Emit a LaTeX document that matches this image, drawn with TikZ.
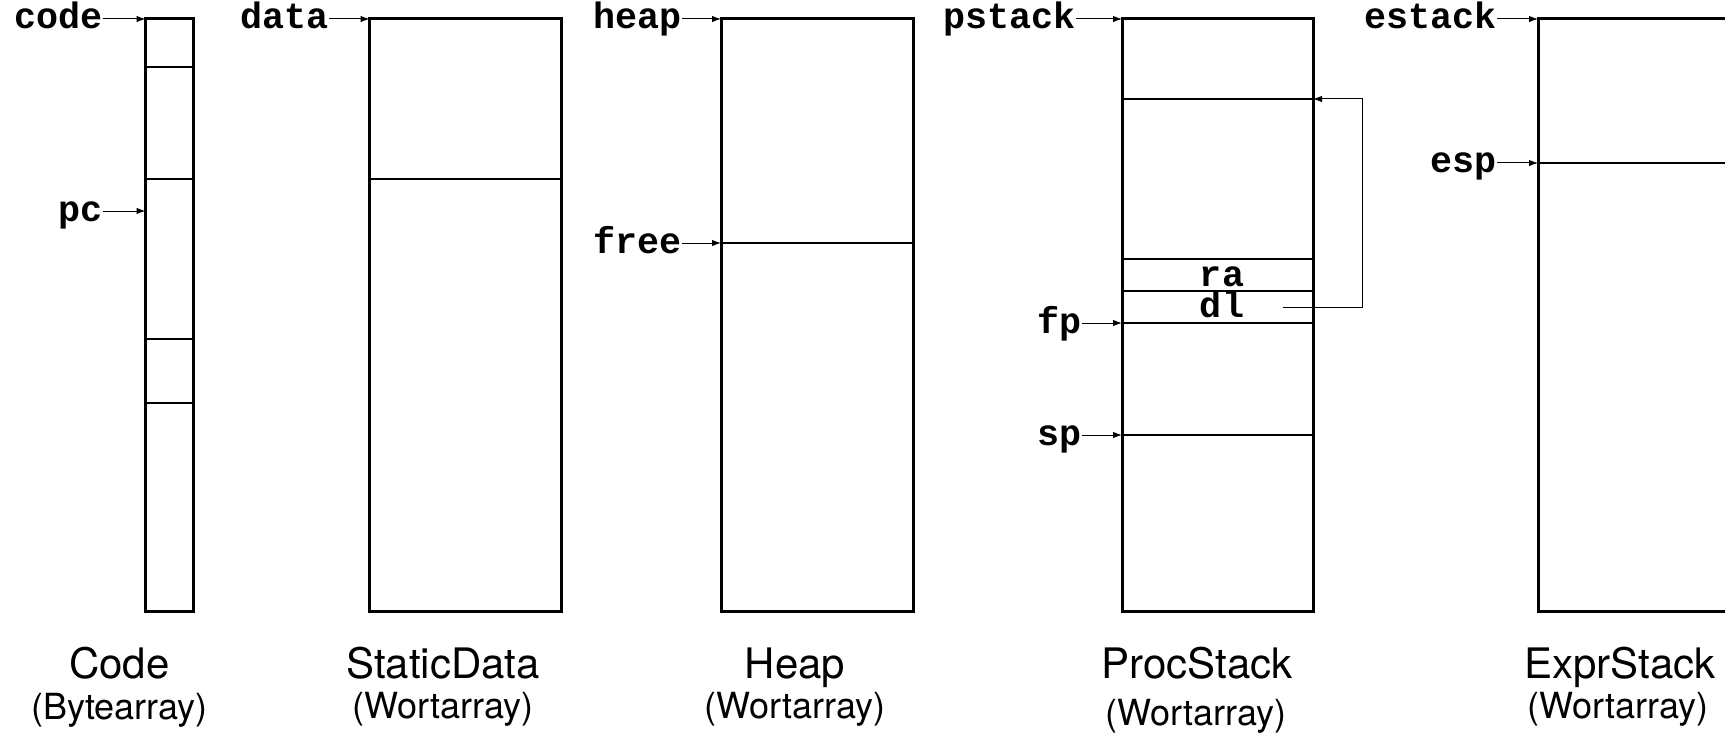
\documentclass[tikz,border=0pt]{standalone}
\usepackage{fontspec}
\setmainfont{TeX Gyre Heros}
\newfontfamily\regfont{Liberation Mono}
\usetikzlibrary{arrows.meta}

\tikzset{
  mem/.style={draw, line width=3pt, inner sep=0pt, outer sep=0pt,
              minimum width=192pt, minimum height=592pt, anchor=north west},
  cell/.style={line width=1.3pt},
  ptr/.style={line width=1pt, -{Latex[length=9pt,width=6.5pt]}},
  reg/.style={font=\regfont\bfseries\fontsize{36.7}{40}\selectfont,
              inner sep=0pt, anchor=base east},
  slot/.style={font=\regfont\bfseries\fontsize{36.7}{40}\selectfont,
               inner sep=0pt, anchor=base},
  title/.style={font=\fontsize{42}{48}\selectfont, inner sep=0pt, anchor=base},
  sub/.style={font=\fontsize{36}{42}\selectfont, inner sep=0pt, anchor=base},
}
% start of a pointer arrow: right end of a register name, at mid x-height
\newcommand\ptrstart[1]{([yshift=10pt]#1.base east)}

\begin{document}
\begin{tikzpicture}[x=1pt, y=-1pt]
\clip (0,0) rectangle (1725,733);

% ---- memory areas ----
\node[mem, minimum width=47.5pt] (codebox) at (145.5,19) {};
\node[mem] (databox) at (369.5,19) {};
\node[mem] (heapbox) at (721,19) {};
\node[mem, minimum width=191pt] (procbox) at (1122,19) {};
\node[mem] (exprbox) at (1538,19) {};

% ---- cell boundaries ----
\foreach \y in {67,179,339,403}
  \draw[cell] (codebox.west |- 0,\y) -- (codebox.east |- 0,\y);
\draw[cell] (databox.west |- 0,179) -- (databox.east |- 0,179);
\draw[cell] (heapbox.west |- 0,243) -- (heapbox.east |- 0,243);
\foreach \y in {99,259,291,323,435}
  \draw[cell] (procbox.west |- 0,\y) -- (procbox.east |- 0,\y);
\draw[cell] (exprbox.west |- 0,163) -- (exprbox.east |- 0,163);

% ---- pointer targets on the left edges ----
\coordinate (pcat)   at (codebox.west |- 0,211);
\coordinate (freeat) at (heapbox.west |- 0,243);
\coordinate (fpat)   at (procbox.west |- 0,323);
\coordinate (spat)   at (procbox.west |- 0,435);
\coordinate (espat)  at (exprbox.west |- 0,163);

% ---- registers (baseline 10pt below the arrow) ----
\node[reg] (code)   at (103,29)   {code};
\node[reg] (pc)     at (103,221)  {pc};
\node[reg] (data)   at (329,29)   {data};
\node[reg] (heap)   at (682,29)   {heap};
\node[reg] (free)   at (682,253)  {free};
\node[reg] (pstack) at (1076,29)  {pstack};
\node[reg] (fp)     at (1082,333) {fp};
\node[reg] (sp)     at (1082,445) {sp};
\node[reg] (estack) at (1497,29)  {estack};
\node[reg] (esp)    at (1497,173) {esp};

\draw[ptr] \ptrstart{code}   -- (codebox.north west);
\draw[ptr] \ptrstart{pc}     -- (pcat);
\draw[ptr] \ptrstart{data}   -- (databox.north west);
\draw[ptr] \ptrstart{heap}   -- (heapbox.north west);
\draw[ptr] \ptrstart{free}   -- (freeat);
\draw[ptr] \ptrstart{pstack} -- (procbox.north west);
\draw[ptr] \ptrstart{fp}     -- (fpat);
\draw[ptr] \ptrstart{sp}     -- (spat);
\draw[ptr] \ptrstart{estack} -- (exprbox.north west);
\draw[ptr] \ptrstart{esp}    -- (espat);

% ---- frame cells and dynamic link ----
\node[slot] (ra) at (1222,286) {ra};
\node[slot] (dl) at (1222,317) {dl};
\coordinate (dlref) at (1283,307);
\coordinate (raat)  at (procbox.east |- 0,99);
\draw[ptr] (dlref) -- ++(79,0) |- (raat);

% ---- captions ----
\node[title] (codettl) at (119.5,678) {Code};
\node[sub]   (codesub) at (119.5,719) {(Bytearray)};
\node[title] (datattl) at (443,678)   {StaticData};
\node[sub]   (datasub) at (443,718)   {(Wortarray)};
\node[title] (heapttl) at (795,678)   {Heap};
\node[sub]   (heapsub) at (795,718)   {(Wortarray)};
\node[title] (procttl) at (1197,678)  {ProcStack};
\node[sub]   (procsub) at (1196,725)  {(Wortarray)};
\node[title] (exprttl) at (1620,678)  {ExprStack};
\node[sub]   (exprsub) at (1618,718)  {(Wortarray)};
\end{tikzpicture}
\end{document}
